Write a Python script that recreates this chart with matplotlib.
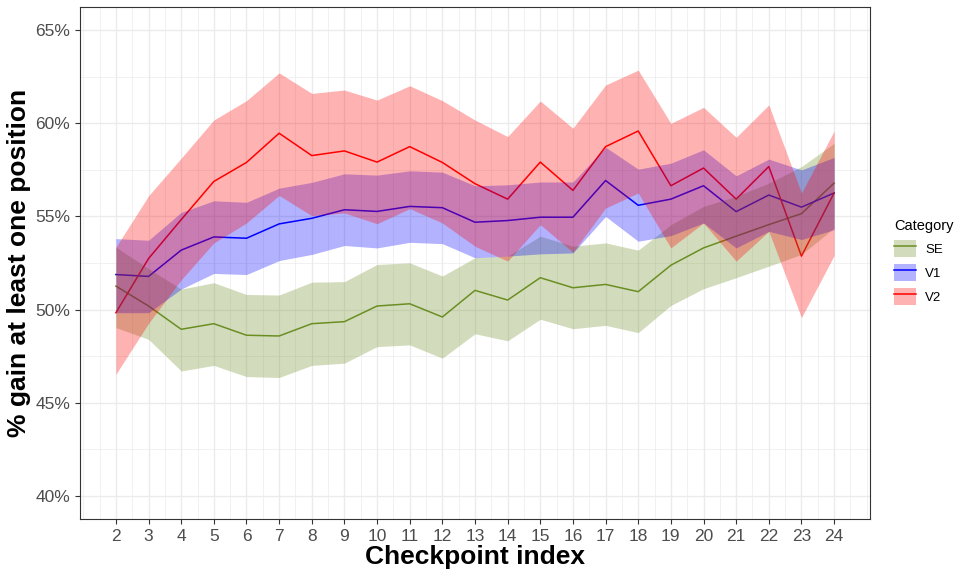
import numpy as np
import matplotlib
matplotlib.use("Agg")
import matplotlib.pyplot as plt
from matplotlib.patches import Patch
from matplotlib.lines import Line2D
from matplotlib.ticker import MultipleLocator, FuncFormatter

plt.rcParams['font.family'] = ['Liberation Sans', 'DejaVu Sans']

checkpoints = list(range(2, 25))

# values in percent
se_mean = [51.26, 50.19, 48.94, 49.24, 48.62, 48.58, 49.24, 49.35, 50.19, 50.31, 49.60,
           51.03, 50.51, 51.71, 51.17, 51.35, 50.96, 52.38, 53.31, 53.94, 54.56, 55.15, 56.79]
se_upper = [53.35, 52.2, 51.1, 51.44, 50.81, 50.78, 51.47, 51.5, 52.42, 52.51, 51.8,
            52.78, 52.87, 53.94, 53.4, 53.58, 53.19, 54.56, 55.54, 56.08, 56.79, 57.68, 58.93]
se_lower = [49.03, 48.4, 46.7, 47.0, 46.4, 46.35, 47.0, 47.12, 48.01, 48.1, 47.39,
            48.7, 48.32, 49.48, 48.97, 49.15, 48.76, 50.22, 51.12, 51.71, 52.33, 52.96, 54.38]

v1_mean = [51.88, 51.78, 53.19, 53.9, 53.83, 54.6, 54.9, 55.36, 55.27, 55.54, 55.47,
           54.69, 54.78, 54.96, 54.96, 56.93, 55.6, 55.93, 56.65, 55.26, 56.15, 55.5, 56.26]
v1_upper = [53.81, 53.72, 55.22, 55.84, 55.76, 56.52, 56.83, 57.29, 57.22, 57.45, 57.38,
            56.65, 56.7, 56.85, 56.85, 58.72, 57.54, 57.86, 58.58, 57.18, 58.08, 57.5, 58.17]
v1_lower = [49.83, 49.83, 51.1, 51.94, 51.88, 52.63, 52.96, 53.44, 53.31, 53.61, 53.54,
            52.78, 52.87, 52.99, 53.04, 55.0, 53.67, 53.97, 54.65, 53.31, 54.2, 53.76, 54.29]

v2_mean = [49.83, 52.74, 54.83, 56.88, 57.9, 59.47, 58.27, 58.52, 57.92, 58.75, 57.9,
           56.76, 55.93, 57.92, 56.4, 58.75, 59.59, 56.65, 57.6, 55.93, 57.68, 52.87, 56.26]
v2_upper = [53.35, 56.11, 58.13, 60.18, 61.22, 62.71, 61.61, 61.79, 61.25, 62.02, 61.22,
            60.18, 59.29, 61.2, 59.74, 62.06, 62.86, 60.0, 60.86, 59.25, 60.99, 56.26, 59.59]
v2_lower = [46.53, 49.26, 51.6, 53.58, 54.65, 56.13, 55.04, 55.19, 54.61, 55.42, 54.65,
            53.4, 52.6, 54.56, 53.08, 55.45, 56.26, 53.31, 54.65, 52.6, 54.2, 49.57, 52.9]

series = [
    ("SE", se_mean, se_lower, se_upper, "#6B8E23"),
    ("V1", v1_mean, v1_lower, v1_upper, "#0000FF"),
    ("V2", v2_mean, v2_lower, v2_upper, "#FF0000"),
]

fig = plt.figure(figsize=(9.69, 5.81), dpi=100)
ax = fig.add_axes([80 / 969, 1 - 519 / 581, 790 / 969, 512 / 581])

# lines first, ribbons on top (as in the original)
handles = []
for name, mean, lo, hi, col in series:
    ax.plot(checkpoints, np.array(mean) / 100, color=col, linewidth=1.1, zorder=2)
for name, mean, lo, hi, col in series:
    ax.fill_between(checkpoints, np.array(lo) / 100, np.array(hi) / 100,
                    color=col, alpha=0.3, linewidth=0, zorder=3)
    handles.append((Patch(facecolor=col, alpha=0.3, edgecolor='none'),
                    Line2D([], [], color=col, linewidth=1.1)))

ax.set_xlim(0.9, 25.1)
ax.set_ylim(0.3875, 0.6625)
ax.set_xticks(checkpoints)
ax.xaxis.set_minor_locator(MultipleLocator(0.5))
ax.yaxis.set_major_locator(MultipleLocator(0.05))
ax.yaxis.set_minor_locator(MultipleLocator(0.025))
ax.yaxis.set_major_formatter(FuncFormatter(lambda v, p: f"{v * 100:.0f}%"))

ax.grid(which='major', color='#EBEBEB', linewidth=1.0)
ax.grid(which='minor', color='#EBEBEB', linewidth=0.5)
ax.set_axisbelow(True)
for s in ax.spines.values():
    s.set_color('#333333')
    s.set_linewidth(0.8)
    s.set_zorder(5)
ax.tick_params(which='major', length=3.5, color='#333333', labelsize=12.5,
               labelcolor='#4D4D4D', width=0.8)
ax.tick_params(which='minor', length=0)

ax.set_xlabel("Checkpoint index", fontsize=19, fontweight='bold', labelpad=1)
ax.set_ylabel("% gain at least one position", fontsize=19, fontweight='bold', labelpad=3)

leg = fig.legend(handles, [s[0] for s in series], title="Category",
                 loc='upper left', bbox_to_anchor=(894 / 969, 1 - 219 / 581),
                 frameon=False, fontsize=9.5, title_fontsize=10.5,
                 handlelength=1.65, handleheight=1.65, labelspacing=0.5,
                 handletextpad=0.7, borderaxespad=0, borderpad=0)
leg._legend_box.align = "left"

fig.savefig("out.png", dpi=100)
